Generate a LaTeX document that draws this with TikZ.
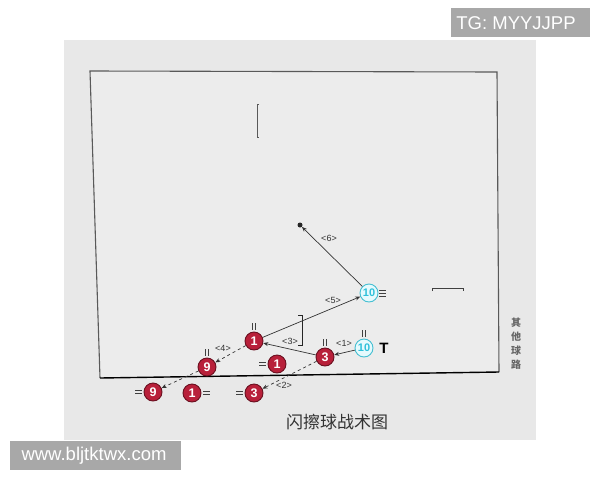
\documentclass[tikz,border=0pt]{standalone}
\usepackage{fontspec}
\setmainfont{Liberation Sans}
\newfontfamily\cjk{Noto Sans CJK SC}
\usetikzlibrary{arrows.meta}
\definecolor{bgpanel}{HTML}{E8E8E8}
\definecolor{court}{HTML}{ECECEC}
\definecolor{ballred}{HTML}{B8203A}
\definecolor{balledge}{HTML}{6A1020}
\definecolor{cyanfill}{HTML}{E6FAFD}
\definecolor{cyanedge}{HTML}{45BFD2}
\definecolor{cyantext}{HTML}{2EC0DA}
\definecolor{tagbox}{HTML}{A8A8A8}
\begin{document}
\begin{tikzpicture}[x=1pt,y=-1pt,
  redball/.style={circle,draw=balledge,line width=0.9pt,fill=ballred,inner sep=0pt,
    minimum size=18pt,text=white,font=\bfseries\fontsize{12.5}{12.5}\selectfont},
  cyanball/.style={circle,draw=cyanedge,line width=0.9pt,fill=cyanfill,inner sep=0pt,
    minimum size=18pt,text=cyantext,font=\bfseries\fontsize{11}{11}\selectfont},
  lbl/.style={font=\fontsize{9}{9}\selectfont,text=black!80,inner sep=0pt},
  pass/.style={draw=black!80,line width=0.7pt,-{Stealth[length=5pt,width=4pt]}},
  run/.style={pass,dash pattern=on 3pt off 3pt},
  marks/.style={draw=black!75,line width=0.6pt},
  tagtext/.style={text=white,font=\fontsize{18.5}{18.5}\selectfont,inner sep=0pt}]
\useasboundingbox (0,0) rectangle (600,480);
\fill[white] (0,0) rectangle (600,480);
% photo panel
\fill[bgpanel] (64,40) rectangle (536,440);
% court
\fill[court] (90,71) -- (497,72) -- (499,372) -- (100,378) -- cycle;
\draw[black!65,line width=1.1pt] (100,378) -- (90,71) -- (497,72) -- (499,372);
\draw[black,line width=1.4pt] (499,372) -- (100,378);
% brackets / marks on court
\draw[black!65,line width=1pt] (259,104) -- (257,104) -- (257,137) -- (259,137);
\draw[black!75,line width=1pt] (432,291) -- (432,288) -- (463,288) -- (463,291);
\draw[black!85,line width=0.8pt] (298,315) -- (302,315) -- (302,345) -- (298,345);
% players
\node[cyanball] (c10a) at (369,293) {10};
\node[cyanball] (c10b) at (364,348) {10};
\node[redball] (r3a) at (325,357) {3};
\node[redball] (r1a) at (254,341) {1};
\node[redball] (r1b) at (277,364) {1};
\node[redball] (r9a) at (207,367) {9};
\node[redball] (r9b) at (153,392) {9};
\node[redball] (r1c) at (192,393) {1};
\node[redball] (r3b) at (254,393) {3};
\node[circle,fill=black!85,inner sep=0pt,minimum size=5pt] (dot) at (300,225) {};
\node[font=\bfseries\fontsize{15}{15}\selectfont,inner sep=0pt] (tT) at (384,348) {T};
% facing marks
\draw[marks] ([xshift=-1.4pt]c10a.east) ++(2,-3) -- ++(7,0) ++(-7,3) -- ++(7,0) ++(-7,3) -- ++(7,0);
\foreach \n in {c10b,r3a,r1a,r9a}{
  \draw[marks] ([xshift=-1.5pt]\n.north) ++(0,-2) -- ++(0,-7);
  \draw[marks] ([xshift=1.5pt]\n.north) ++(0,-2) -- ++(0,-7);
}
\foreach \n in {r1b,r9b,r3b}{
  \draw[marks] ([yshift=1.5pt]\n.west) ++(-2,0) -- ++(-7,0);
  \draw[marks] ([yshift=-1.5pt]\n.west) ++(-2,0) -- ++(-7,0);
}
\draw[marks] ([yshift=1.5pt]r1c.east) ++(2,0) -- ++(7,0);
\draw[marks] ([yshift=-1.5pt]r1c.east) ++(2,0) -- ++(7,0);
% passes and runs
\draw[pass] (c10b) -- (r3a);
\draw[pass] (r3a) -- (r1a);
\draw[pass] (r1a) -- (c10a);
\draw[pass] (c10a) -- (dot);
\draw[run] (r1a) -- (r9a);
\draw[run] (r3a) -- (r3b);
\draw[run] (r9a) -- (r9b);
% labels
\node[lbl] (l1) at (344,343) {<1>};
\node[lbl] (l2) at (284,385) {<2>};
\node[lbl] (l3) at (290,341) {<3>};
\node[lbl] (l4) at (223,348) {<4>};
\node[lbl] (l5) at (333,300) {<5>};
\node[lbl] (l6) at (329,238) {<6>};
% side text
\node[font=\cjk\bfseries\fontsize{10}{10}\selectfont,text=black!60,inner sep=0pt,align=center] (side) at (516,344)
  {其\\[4pt]他\\[4pt]球\\[4pt]路};
% title
\node[font=\cjk\fontsize{17}{17}\selectfont,text=black!80,inner sep=0pt] (title) at (337,422) {闪擦球战术图};
% watermark tags
\fill[tagbox] (451,8) rectangle (590,37);
\node[tagtext] (tg) at (516,23) {TG: MYYJJPP};
\fill[tagbox] (10,441) rectangle (181,470);
\node[tagtext] (www) at (94,456) {www.bljtktwx.com};
\end{tikzpicture}
\end{document}
